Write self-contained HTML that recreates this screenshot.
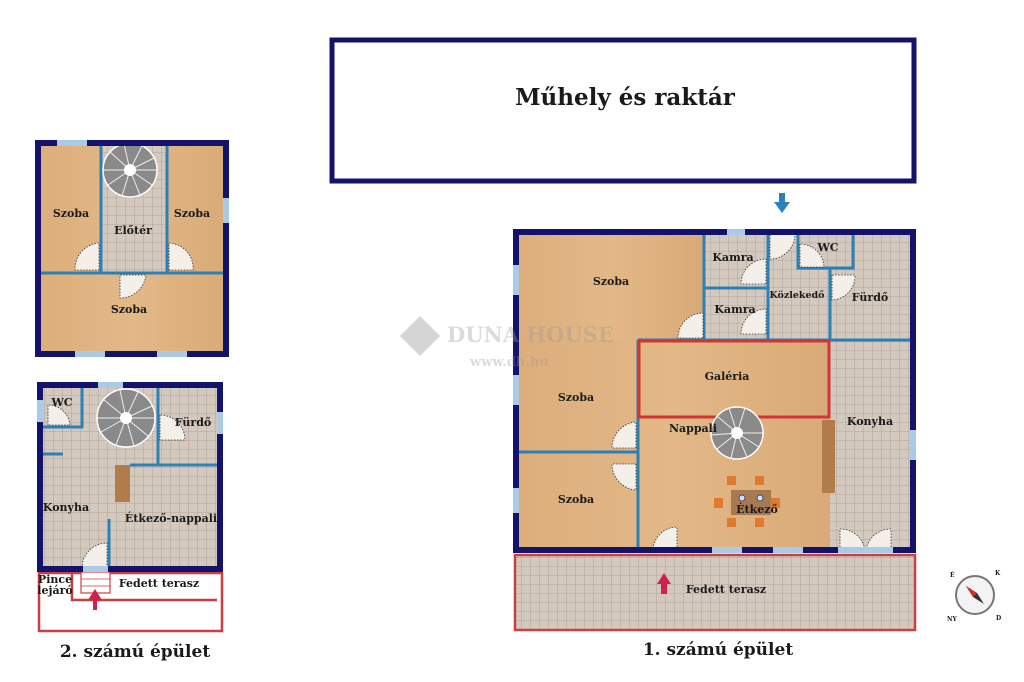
<!DOCTYPE html>
<html><head><meta charset="utf-8"><style>
html,body{margin:0;padding:0;background:#fff;}
svg{display:block}
text{font-family:"DejaVu Serif","Liberation Serif",serif;font-weight:bold;fill:#1a1a1a}
</style></head><body>
<svg width="1024" height="682" viewBox="0 0 1024 682" xmlns="http://www.w3.org/2000/svg">
<defs>
<pattern id="tile" width="9" height="9" patternUnits="userSpaceOnUse">
<rect width="9" height="9" fill="#d4c9bf"/>
<path d="M9 0V9H0" fill="none" stroke="#a99a8e" stroke-width="0.8"/>
</pattern>
<linearGradient id="wood" x1="0" x2="1" y1="0" y2="0">
<stop offset="0" stop-color="#dcae7c"/><stop offset="0.5" stop-color="#e3b887"/><stop offset="1" stop-color="#d9aa77"/>
</linearGradient>
<g id="stair">
<circle r="1" fill="#888"/>
</g>
</defs>

<!-- Top box -->
<rect x="332" y="40" width="582" height="141" fill="#fff" stroke="#14136b" stroke-width="5"/>
<text x="625" y="105" text-anchor="middle" font-size="23" font-family="Liberation Serif">Műhely és raktár</text>
<!-- blue arrow -->
<path d="M779 193h6v9h5l-8 11-8-11h5z" fill="#2a7fc0"/>

<!-- ===== Building 1 ===== -->
<rect x="516" y="232" width="397" height="318" fill="url(#tile)"/>
<rect x="516" y="232" width="188" height="108" fill="url(#wood)"/>
<rect x="516" y="340" width="314" height="210" fill="url(#wood)"/>
<!-- terrace -->
<rect x="515" y="555" width="400" height="75" fill="url(#tile)" stroke="#c84040" stroke-width="2.5"/>
<!-- inner walls -->
<g stroke="#2d80b3" stroke-width="3" fill="none">
<path d="M638 340V550"/>
<path d="M516 452H638"/>
<path d="M830 268V340H913"/>
<path d="M704 232V340"/>
<path d="M704 288H768"/>
<path d="M768 232V340"/>
<path d="M798 232V268H853V232"/>
<path d="M830 268H853"/>
<path d="M638 340H830"/>
</g>
<rect x="639" y="341" width="190" height="76" fill="none" stroke="#d03535" stroke-width="3"/>
<!-- counter -->
<rect x="822" y="420" width="13" height="73" fill="#b07d4a"/>
<!-- doors -->
<g fill="#f4efe8" stroke="#333" stroke-width="0.8" stroke-dasharray="1.5 1.5">
<path d="M703 338V313A25 25 0 0 0 678 338Z"/>
<path d="M766 284V259A25 25 0 0 0 741 284Z"/>
<path d="M766 334V309A25 25 0 0 0 741 334Z"/>
<path d="M770 234H795A25 25 0 0 1 770 259Z"/>
<path d="M800 244V267H824A24 24 0 0 0 800 244Z"/>
<path d="M832 275V300A24 24 0 0 0 855 275Z"/>
<path d="M636 448V422A26 26 0 0 0 612 448Z"/>
<path d="M636 464V490A26 26 0 0 1 612 464Z"/>
<path d="M677 550V527A24 24 0 0 0 653 550Z"/>
<path d="M840 550V529A25 25 0 0 1 865 550Z"/>
<path d="M891 550V529A25 25 0 0 0 866 550Z"/>
</g>
<!-- spiral stair -->
<g transform="translate(737,433)">
<circle r="26" fill="#8a8a8a" stroke="#fff" stroke-width="1.5"/>
<g stroke="#eee" stroke-width="1">
<path d="M0 0L26 0M0 0L22 14M0 0L10 24M0 0L-6 25M0 0L-20 16M0 0L-26 2M0 0L-20-17M0 0L-8-25M0 0L8-25"/>
</g>
<circle r="6" fill="#fff"/>
</g>
<!-- dining -->
<g fill="#e07a30">
<rect x="727" y="476" width="9" height="9"/><rect x="755" y="476" width="9" height="9"/>
<rect x="727" y="518" width="9" height="9"/><rect x="755" y="518" width="9" height="9"/>
<rect x="714" y="498" width="9" height="10"/><rect x="771" y="498" width="9" height="10"/>
</g>
<rect x="731" y="490" width="40" height="25" fill="#a87a52"/>
<circle cx="742" cy="498" r="3" fill="#cfe3f5" stroke="#336" stroke-width="0.8"/>
<circle cx="760" cy="498" r="3" fill="#cfe3f5" stroke="#336" stroke-width="0.8"/>
<!-- outer wall -->
<rect x="516" y="232" width="397" height="318" fill="none" stroke="#14136b" stroke-width="6"/>
<g fill="#a9cbe6">
<rect x="727" y="229" width="18" height="6"/>
<rect x="513" y="265" width="6" height="30"/>
<rect x="513" y="375" width="6" height="30"/>
<rect x="513" y="488" width="6" height="25"/>
<rect x="910" y="430" width="6" height="30"/>
<rect x="712" y="547" width="30" height="6"/>
<rect x="773" y="547" width="30" height="6"/>
<rect x="838" y="547" width="55" height="6"/>
</g>
<path d="M661 594v-10h-4l7-11 7 11h-4v10z" fill="#d02050"/>
<!-- labels -->
<g font-size="11" text-anchor="middle">
<text x="611" y="285">Szoba</text>
<text x="733" y="261">Kamra</text>
<text x="735" y="313">Kamra</text>
<text x="797" y="298" font-size="9.5">Közlekedő</text>
<text x="828" y="251">WC</text>
<text x="870" y="301">Fürdő</text>
<text x="576" y="401">Szoba</text>
<text x="576" y="503">Szoba</text>
<text x="727" y="380">Galéria</text>
<text x="693" y="432">Nappali</text>
<text x="870" y="425">Konyha</text>
<text x="757" y="513">Étkező</text>
<text x="726" y="593">Fedett terasz</text>
</g>

<!-- ===== Building 2 top ===== -->
<rect x="38" y="143" width="188" height="211" fill="url(#wood)"/>
<rect x="101" y="146" width="66" height="127" fill="url(#tile)"/>
<g stroke="#2d80b3" stroke-width="3" fill="none">
<path d="M101 143V273M167 143V273M38 273H226"/>
</g>
<g fill="#f4efe8" stroke="#333" stroke-width="0.8" stroke-dasharray="1.5 1.5">
<path d="M99 270V243A26 26 0 0 0 75 270Z"/>
<path d="M169 270V243A25 25 0 0 1 193 270Z"/>
<path d="M120 275H146A26 26 0 0 1 120 298Z"/>
</g>
<g transform="translate(130,170)">
<circle r="27" fill="#8a8a8a" stroke="#fff" stroke-width="1.5"/>
<g stroke="#eee" stroke-width="1"><path d="M0 0L27 0M0 0L22 15M0 0L10 25M0 0L-8 26M0 0L-22 15M0 0L-27 0M0 0L-20-18M0 0L-6-26M0 0L12-24M0 0L24-12"/></g>
<circle r="6" fill="#fff"/>
</g>
<rect x="38" y="143" width="188" height="211" fill="none" stroke="#14136b" stroke-width="6"/>
<g fill="#a9cbe6">
<rect x="57" y="140" width="30" height="6"/>
<rect x="223" y="198" width="6" height="25"/>
<rect x="75" y="351" width="30" height="6"/>
<rect x="157" y="351" width="30" height="6"/>
</g>
<g font-size="11" text-anchor="middle">
<text x="71" y="217">Szoba</text>
<text x="192" y="217">Szoba</text>
<text x="133" y="234">Előtér</text>
<text x="129" y="313">Szoba</text>
</g>

<!-- ===== Building 2 bottom ===== -->
<rect x="40" y="385" width="180" height="184" fill="url(#tile)"/>
<rect x="39" y="573" width="183" height="58" fill="#fff" stroke="#c84040" stroke-width="2.5"/>
<path d="M72 573V600H217" fill="none" stroke="#c84040" stroke-width="2.5"/>
<rect x="81" y="572" width="29" height="21" fill="#fff" stroke="#c84040" stroke-width="1.2"/>
<path d="M81 579H110M81 586H110" stroke="#c84040" stroke-width="0.8"/>
<g stroke="#2d80b3" stroke-width="3" fill="none">
<path d="M82 385V427H40"/>
<path d="M158 385V465M130 465H220"/>
<path d="M43 454H63"/>
<path d="M109 519V567"/>
</g>
<rect x="115" y="465" width="15" height="37" fill="#b07d4a"/>
<g fill="#f4efe8" stroke="#333" stroke-width="0.8" stroke-dasharray="1.5 1.5">
<path d="M48 425V405A22 22 0 0 1 70 425Z"/>
<path d="M160 415V440H185A25 25 0 0 0 160 415Z"/>
<path d="M107 568V543A25 25 0 0 0 82 568Z"/>
</g>
<g transform="translate(126,418)">
<circle r="29" fill="#8a8a8a" stroke="#fff" stroke-width="1.5"/>
<g stroke="#eee" stroke-width="1"><path d="M0 0L29 0M0 0L22 18M0 0L8 28M0 0L-10 27M0 0L-25 14M0 0L-29 0M0 0L-22-18M0 0L-6-28M0 0L12-26M0 0L26-12"/></g>
<circle r="6" fill="#fff"/>
</g>
<rect x="40" y="385" width="180" height="184" fill="none" stroke="#14136b" stroke-width="6"/>
<g fill="#a9cbe6">
<rect x="98" y="382" width="25" height="6"/>
<rect x="37" y="400" width="6" height="22"/>
<rect x="217" y="412" width="6" height="22"/>
<rect x="83" y="566" width="25" height="6"/>
</g>
<path d="M93 610v-10h-5l7-11 7 11h-5v10z" fill="#d02050"/>
<g font-size="11" text-anchor="middle">
<text x="62" y="406">WC</text>
<text x="193" y="426">Fürdő</text>
<text x="66" y="511">Konyha</text>
<text x="171" y="522">Étkező-nappali</text>
<text x="159" y="587">Fedett terasz</text>
<text x="55" y="583">Pince</text>
<text x="55" y="594">lejáró</text>
</g>

<!-- watermark -->
<g opacity="0.35">
<path d="M420 316l20 20-20 20-20-20z" fill="#888"/>
<text x="447" y="342" font-size="21" font-family="Liberation Serif" font-weight="normal" fill="#888" style="fill:#999">DUNA HOUSE</text>
<text x="470" y="366" font-size="13" fill="#999" style="fill:#999">www.dh.hu</text>
</g>

<!-- captions -->
<text x="135" y="657" font-size="17" text-anchor="middle" font-family="Liberation Serif">2. számú épület</text>
<text x="718" y="655" font-size="17" text-anchor="middle" font-family="Liberation Serif">1. számú épület</text>

<!-- compass -->
<g transform="translate(975,595)">
<circle r="19" fill="#f3f3f3" stroke="#777" stroke-width="2"/>
<path d="M-9-9L2-2L9 9L-2 2Z" fill="#333"/>
<path d="M-9-9L2-2L-2 2Z" fill="#d03030"/>
<g font-size="6" fill="#333"><text x="-25" y="-18">É</text><text x="20" y="-20">K</text><text x="-28" y="26">NY</text><text x="21" y="25">D</text></g>
</g>
</svg>
</body></html>
